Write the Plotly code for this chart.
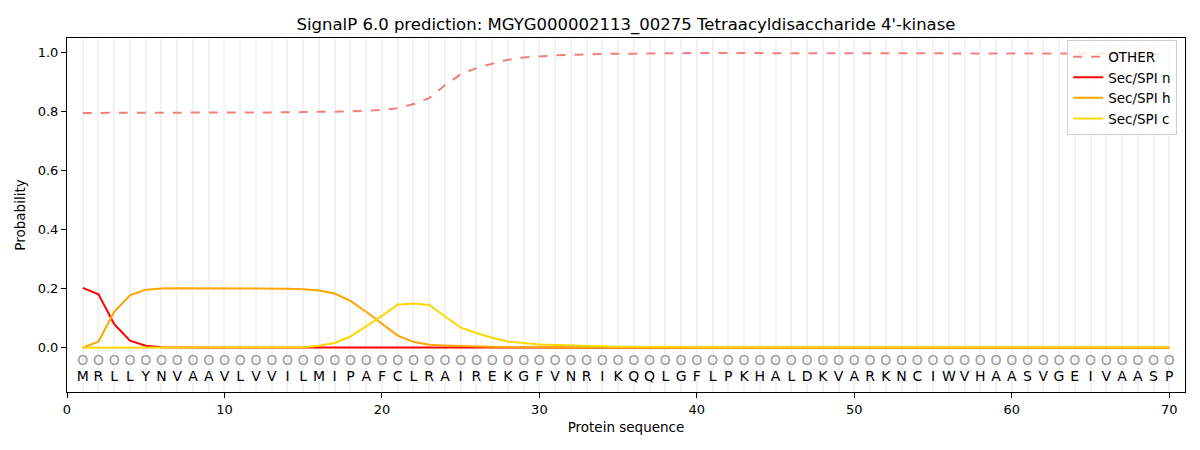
import plotly.graph_objects as go

# residue sequence and per-position probabilities
residues = list("MRLLYNVAAVLVVILMIPAFCLRAIREKGFVNRIKQQLGFLPKHALDKVARKNCIWVHAASVGEIVAASP")
positions = list(range(1, len(residues) + 1))

other = [
    0.796, 0.796, 0.796, 0.796, 0.796, 0.796, 0.796, 0.797, 0.797, 0.797,
    0.797, 0.798, 0.798, 0.798, 0.799, 0.799, 0.800, 0.801, 0.803, 0.806,
    0.812, 0.826, 0.846, 0.890, 0.927, 0.948, 0.963, 0.976, 0.984, 0.988,
    0.991, 0.993, 0.995, 0.996, 0.997, 0.997, 0.998, 0.998, 0.998, 0.999,
    0.999, 0.999, 0.999, 0.999, 0.999, 0.999, 0.999, 0.999, 0.999, 0.999,
    0.999, 0.999, 0.999, 0.999, 0.999, 0.999, 0.999, 0.999, 0.999, 0.998,
    0.998, 0.998, 0.998, 0.997, 0.997, 0.997, 0.997, 0.997, 0.996, 0.996,
]
sec_n = [
    0.203, 0.181, 0.080, 0.024, 0.007, 0.002, 0.001, 0.001, 0.0, 0.0,
    0.0, 0.0, 0.0, 0.0, 0.0, 0.0, 0.0, 0.0, 0.0, 0.0,
    0.0, 0.0, 0.0, 0.0, 0.0, 0.0, 0.0, 0.0, 0.0, 0.0,
    0.0, 0.0, 0.0, 0.0, 0.0, 0.0, 0.0, 0.0, 0.0, 0.0,
    0.0, 0.0, 0.0, 0.0, 0.0, 0.0, 0.0, 0.0, 0.0, 0.0,
    0.0, 0.0, 0.0, 0.0, 0.0, 0.0, 0.0, 0.0, 0.0, 0.0,
    0.0, 0.0, 0.0, 0.0, 0.0, 0.0, 0.0, 0.0, 0.0, 0.0,
]
sec_h = [
    0.000, 0.021, 0.122, 0.178, 0.197, 0.201, 0.202, 0.202, 0.202, 0.202,
    0.202, 0.201, 0.201, 0.200, 0.198, 0.194, 0.184, 0.159, 0.122, 0.081,
    0.041, 0.020, 0.010, 0.008, 0.006, 0.004, 0.003, 0.002, 0.002, 0.001,
    0.001, 0.001, 0.001, 0.001, 0.001, 0.001, 0.001, 0.001, 0.001, 0.001,
    0.001, 0.001, 0.001, 0.001, 0.001, 0.001, 0.001, 0.001, 0.001, 0.001,
    0.001, 0.001, 0.001, 0.001, 0.001, 0.001, 0.001, 0.001, 0.001, 0.001,
    0.001, 0.001, 0.001, 0.001, 0.001, 0.001, 0.001, 0.001, 0.001, 0.001,
]
sec_c = [
    0.000, 0.000, 0.000, 0.000, 0.000, 0.000, 0.000, 0.000, 0.000, 0.000,
    0.000, 0.000, 0.000, 0.001, 0.002, 0.007, 0.016, 0.038, 0.072, 0.108,
    0.146, 0.150, 0.145, 0.106, 0.068, 0.050, 0.034, 0.021, 0.015, 0.011,
    0.009, 0.007, 0.005, 0.004, 0.003, 0.003, 0.002, 0.002, 0.002, 0.001,
    0.001, 0.001, 0.001, 0.001, 0.001, 0.001, 0.001, 0.001, 0.001, 0.001,
    0.001, 0.001, 0.001, 0.001, 0.001, 0.001, 0.001, 0.001, 0.001, 0.001,
    0.001, 0.001, 0.001, 0.001, 0.001, 0.001, 0.001, 0.001, 0.001, 0.001,
]

series = [
    ("OTHER", other, "#f08080", "dash"),
    ("Sec/SPI n", sec_n, "#ff0000", "solid"),
    ("Sec/SPI h", sec_h, "#ffa500", "solid"),
    ("Sec/SPI c", sec_c, "#ffd700", "solid"),
]

FONT = "DejaVu Sans, Arial, sans-serif"

fig = go.Figure()
for name, vals, color, dash in series:
    fig.add_trace(go.Scatter(
        x=positions, y=vals, name=name, mode="lines",
        line=dict(color=color, width=2, dash=dash),
    ))

# annotation row under the curves: circle marker + residue letter
fig.add_trace(go.Scatter(
    x=positions, y=[-0.045] * len(positions), mode="text",
    text=["O"] * len(positions), showlegend=False, hoverinfo="skip",
    textfont=dict(family=FONT, size=14, color="#9a9a9a"),
))
fig.add_trace(go.Scatter(
    x=positions, y=[-0.1] * len(positions), mode="text",
    text=residues, showlegend=False, hoverinfo="skip",
    textfont=dict(family=FONT, size=14, color="black"),
))

# page body adds an 8px offset, so margins are shifted to compensate
fig.update_layout(
    width=1200, height=450,
    template="plotly_white",
    font=dict(family=FONT, size=13, color="black"),
    title=dict(
        text="SignalP 6.0 prediction: MGYG000002113_00275 Tetraacyldisaccharide 4'-kinase",
        x=0.5, xanchor="center", xref="paper", y=0.965, yanchor="middle",
        font=dict(family=FONT, size=16.5, color="black"),
    ),
    margin=dict(l=59, r=23, t=30, b=66, autoexpand=False),
    plot_bgcolor="white",
    legend=dict(
        x=0.993, y=0.993, xanchor="right", yanchor="top",
        bgcolor="rgba(255,255,255,0.8)", bordercolor="#d0d0d0", borderwidth=1,
        font=dict(family=FONT, size=13.5), tracegroupgap=0,
    ),
)
fig.update_xaxes(
    range=[0, 71], tickvals=[0, 10, 20, 30, 40, 50, 60, 70],
    showgrid=True, gridcolor="#f2f2f2", gridwidth=1.5,
    minor=dict(dtick=1, tick0=0, showgrid=True, gridcolor="#f2f2f2", gridwidth=1.5),
    showline=True, mirror=True, linecolor="black", linewidth=1,
    ticks="outside", ticklen=5, tickcolor="black", zeroline=False,
    automargin=False,
    title=dict(text="Protein sequence", standoff=6, font=dict(family=FONT, size=13.5)),
)
fig.update_yaxes(
    range=[-0.15, 1.05], tickvals=[0, 0.2, 0.4, 0.6, 0.8, 1.0],
    ticktext=["0.0", "0.2", "0.4", "0.6", "0.8", "1.0"],
    showgrid=False, zeroline=False,
    showline=True, mirror=True, linecolor="black", linewidth=1,
    ticks="outside", ticklen=5, tickcolor="black",
    automargin=False,
    title=dict(text="Probability", standoff=8, font=dict(family=FONT, size=13.5)),
)

fig.write_html("out.html")
